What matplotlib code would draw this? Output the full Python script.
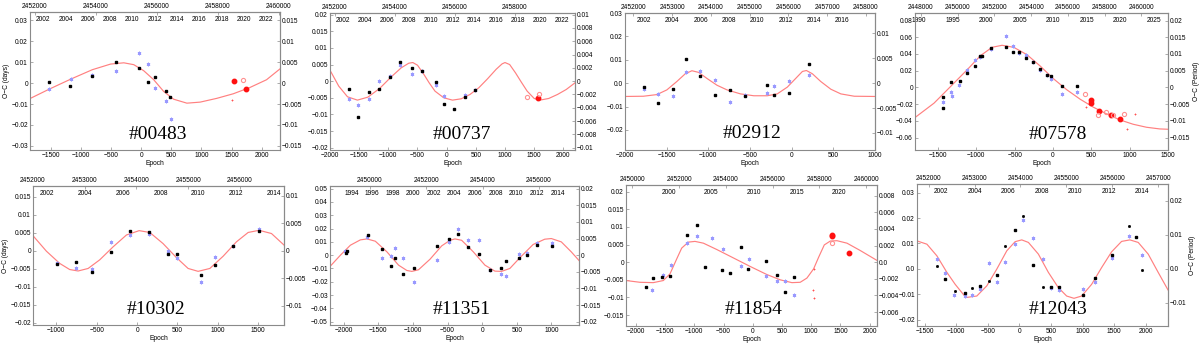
import numpy as np
import matplotlib
matplotlib.use('Agg')
import matplotlib.pyplot as plt
from matplotlib.ticker import FuncFormatter

plt.rcParams['font.family'] = ['Liberation Sans', 'DejaVu Sans']

names = ['#00483', '#00737', '#02912', '#07578', '#10302', '#11351', '#11854', '#12043']

# --- #00483 ---
blk_00483 = [(-1522, 0.0003), (-1176, -0.0013), (-808, 0.0035), (-423, 0.0099), (-38, 0.0073),
             (115, 0.0006), (225, 0.0027), (412, -0.0037), (484, -0.0065)]
blu_00483 = [(-1522, -0.0029), (-1165, 0.0019), (-808, 0.0041), (-423, 0.0057), (-38, 0.0144),
             (110, 0.0091), (225, -0.0022), (412, -0.0086), (489, -0.0171)]
red_00483 = [(1544, 0.0008), (1736, -0.0029)]
rop_00483 = [(1681, 0.0013)]
rsm_00483 = [(1500, -0.0083)]
fit_00483 = [(-1840, -0.0074), (-1522, -0.0029), (-1165, 0.0019), (-808, 0.0064), (-505, 0.0091),
             (-286, 0.0097), (-121, 0.0088), (44, 0.0059), (209, 0.0016), (374, -0.0040),
             (538, -0.0077), (758, -0.0096), (978, -0.0091), (1253, -0.0073), (1527, -0.0051),
             (1802, -0.0021), (2077, 0.0016), (2300, 0.0068)]

# --- #00737 ---
blk_00737 = [(-1682, -0.0024), (-1521, -0.0107), (-1326, -0.0034), (-1159, -0.0025), (-975, 0.0012),
             (-797, 0.0057), (-591, 0.0040), (-423, 0.0032), (-178, -0.0003), (-45, -0.0070),
             (134, -0.0084), (306, -0.0048), (485, -0.0027)]
blu_00737 = [(-1682, -0.0053), (-1515, -0.0073), (-1326, -0.0054), (-1159, 0.0002), (-975, 0.0015),
             (-797, 0.0049), (-591, 0.0022), (-423, 0.0031), (-184, -0.0011), (-50, -0.0045),
             (306, -0.0042), (485, -0.0028)]
red_00737 = [(1571, -0.0051)]
rop_00737 = [(1382, -0.0049), (1582, -0.0039)]
rsm_00737 = []
fit_00737 = [(-2000, 0.0033), (-1850, -0.0015), (-1700, -0.0047), (-1530, -0.0057), (-1350, -0.0048),
             (-1150, -0.0022), (-950, 0.0013), (-780, 0.0040), (-650, 0.0054), (-580, 0.0056),
             (-500, 0.0048), (-400, 0.0023), (-300, -0.0005), (-200, -0.0030), (-50, -0.0050),
             (100, -0.0057), (250, -0.0053), (400, -0.0040), (550, -0.0020), (700, 0.0007),
             (850, 0.0036), (950, 0.0052), (1000, 0.0056), (1080, 0.0050), (1180, 0.0025),
             (1280, -0.0003), (1380, -0.0030), (1500, -0.0052), (1600, -0.0057), (1750, -0.0052),
             (1900, -0.0040), (2050, -0.0025), (2200, -0.0005)]

# --- #02912 ---
blk_02912 = [(-1767, -0.0017), (-1606, -0.0083), (-1430, -0.0026), (-1265, 0.0103), (-1100, 0.0029),
             (-924, -0.0049), (-735, -0.0030), (-566, -0.0056), (-293, -0.0007), (-209, -0.0049),
             (-32, -0.0044), (205, 0.0081)]
blu_02912 = [(-1767, -0.0023), (-1606, -0.0047), (-1430, -0.0054), (-1265, 0.0049), (-1100, 0.0051),
             (-924, 0.0013), (-735, -0.0081), (-566, -0.0051), (-293, -0.0041), (-209, -0.0011),
             (-32, 0.0011), (205, 0.0033)]
red_02912 = []
rop_02912 = []
rsm_02912 = []
fit_02912 = [(-2000, -0.0057), (-1779, -0.0056), (-1618, -0.0049), (-1498, -0.0029), (-1378, 0.0007),
             (-1277, 0.0040), (-1197, 0.0053), (-1116, 0.0046), (-1016, 0.0020), (-896, -0.0009),
             (-775, -0.0029), (-614, -0.0046), (-454, -0.0054), (-293, -0.0054), (-173, -0.0046),
             (-52, -0.0017), (48, 0.0020), (129, 0.0050), (177, 0.0054), (249, 0.0040),
             (349, 0.0007), (470, -0.0026), (590, -0.0046), (751, -0.0056), (1000, -0.0057)]

# --- #07578 ---
blk_07578 = [(-1433, -0.0116), (-1433, -0.0248), (-1327, 0.0068), (-1219, 0.0080), (-1119, 0.0172),
             (-1011, 0.0260), (-955, 0.0380), (-924, 0.0370), (-807, 0.0468), (-617, 0.0484),
             (-522, 0.0424), (-444, 0.0424), (-348, 0.0348), (-262, 0.0300), (-167, 0.0216),
             (-76, 0.0152), (-32, 0.0132), (119, 0.0012), (309, 0.0020)]
blu_07578 = [(-1433, -0.0180), (-1327, -0.0060), (-1323, -0.0104), (-1223, 0.0028), (-1119, 0.0212),
             (-1015, 0.0328), (-955, 0.0360), (-807, 0.0464), (-617, 0.0620), (-522, 0.0500),
             (-440, 0.0412), (-348, 0.0384), (-262, 0.0308), (-167, 0.0212), (-80, 0.0148),
             (-32, 0.0096), (115, -0.0084), (309, -0.0056)]
red_07578 = [(491, -0.0156), (496, -0.0188), (604, -0.0276), (755, -0.0328), (872, -0.0380)]
rop_07578 = [(422, -0.0084), (591, -0.0328), (690, -0.0288), (786, -0.0328), (924, -0.0316)]
rsm_07578 = [(425, -0.0236), (1075, -0.0316), (961, -0.0500)]
fit_07578 = [(-1800, -0.0360), (-1552, -0.0188), (-1335, 0.0012), (-1119, 0.0212), (-946, 0.0380),
             (-794, 0.0480), (-664, 0.0504), (-513, 0.0480), (-340, 0.0392), (-167, 0.0256),
             (6, 0.0104), (180, -0.0028), (353, -0.0140), (526, -0.0236), (699, -0.0316),
             (872, -0.0388), (1045, -0.0440), (1219, -0.0476), (1392, -0.0496), (1500, -0.0500)]

# --- #10302 ---
blk_10302 = [(-992, -0.0037), (-752, -0.0030), (-558, -0.0059), (-322, -0.0003), (-91, 0.0055),
             (153, 0.0053), (384, -0.0008), (492, -0.0009), (793, -0.0067), (967, -0.0039),
             (1190, 0.0013), (1512, 0.0056)]
blu_10302 = [(-992, -0.0035), (-752, -0.0048), (-558, -0.0050), (-322, 0.0025), (-91, 0.0044),
             (153, 0.0048), (384, -0.0001), (492, -0.0019), (793, -0.0086), (967, -0.0016),
             (1190, 0.0014), (1512, 0.0060)]
red_10302 = []
rop_10302 = []
rsm_10302 = []
fit_10302 = [(-1290, 0.0042), (-1124, -0.0001), (-959, -0.0035), (-835, -0.0052), (-731, -0.0056),
             (-607, -0.0049), (-463, -0.0025), (-298, 0.0011), (-132, 0.0044), (25, 0.0056),
             (157, 0.0051), (322, 0.0020), (488, -0.0019), (632, -0.0049), (756, -0.0057),
             (901, -0.0049), (1066, -0.0015), (1231, 0.0025), (1376, 0.0051), (1512, 0.0057),
             (1665, 0.0048), (1820, 0.0016)]

# --- #11351 ---
blk_11351 = [(-1975, 0.0013), (-1947, 0.0035), (-1644, 0.0148), (-1447, 0.0050), (-1318, -0.0080),
             (-1255, -0.0025), (-1150, -0.0143), (-982, -0.0098), (-657, 0.0070), (-479, 0.0120),
             (-354, 0.0162), (-200, 0.0065), (-47, 0.0010), (112, -0.0115), (266, -0.0095),
             (338, -0.0043), (535, -0.0023), (650, 0.0000), (794, 0.0080), (1010, 0.0070)]
blu_11351 = [(-1980, 0.0030), (-1668, 0.0135), (-1447, -0.0025), (-1318, -0.0005), (-1255, 0.0055),
             (-1150, -0.0018), (-982, -0.0200), (-657, -0.0033), (-479, 0.0100), (-354, 0.0195),
             (-200, 0.0112), (-42, 0.0112), (112, -0.0113), (266, -0.0138), (338, -0.0158),
             (535, 0.0010), (650, 0.0018), (794, 0.0088), (1010, 0.0093)]
red_11351 = []
rop_11351 = []
rsm_11351 = []
fit_11351 = [(-2200, -0.0085), (-2049, 0.0000), (-1905, 0.0075), (-1761, 0.0115), (-1665, 0.0122),
             (-1545, 0.0105), (-1377, 0.0025), (-1209, -0.0075), (-1089, -0.0115), (-1017, -0.0122),
             (-921, -0.0110), (-753, -0.0030), (-585, 0.0070), (-465, 0.0112), (-393, 0.0122),
             (-297, 0.0112), (-128, 0.0025), (40, -0.0075), (184, -0.0120), (280, -0.0122),
             (400, -0.0100), (544, -0.0020), (736, 0.0080), (904, 0.0120), (1000, 0.0125),
             (1144, 0.0100), (1288, 0.0025), (1400, -0.0040)]

# --- #11854 ---
blk_11854 = [(-1834, -0.0070), (-1714, -0.0045), (-1549, -0.0043), (-1417, -0.0040), (-1120, 0.0078),
             (-960, 0.0105), (-811, -0.0015), (-520, -0.0021), (-389, -0.0032), (-206, 0.0042),
             (-80, -0.0018), (229, 0.0003), (406, -0.0036), (554, -0.0085), (703, -0.0042)]
blu_11854 = [(-1720, -0.0080), (-1537, -0.0037), (-1406, -0.0009), (-1120, 0.0054), (-960, 0.0074),
             (-691, 0.0070), (-514, 0.0037), (-206, -0.0011), (-69, 0.0008), (229, -0.0039),
             (406, -0.0054), (554, -0.0052), (703, -0.0093)]
red_11854 = [(1349, 0.0077), (1354, 0.0074), (1646, 0.0025)]
rop_11854 = [(1349, 0.0055)]
rsm_11854 = [(1023, -0.0080), (1040, -0.0101), (1040, -0.0019)]
fit_11854 = [(-2170, -0.0052), (-1931, -0.0057), (-1703, -0.0058), (-1531, -0.0052), (-1417, -0.0033),
             (-1303, 0.0009), (-1217, 0.0040), (-1103, 0.0057), (-989, 0.0059), (-846, 0.0054),
             (-617, 0.0036), (-331, 0.0012), (-46, -0.0012), (240, -0.0035), (469, -0.0050),
             (669, -0.0058), (811, -0.0057), (926, -0.0045), (1040, -0.0019), (1126, 0.0014),
             (1223, 0.0049), (1326, 0.0060), (1440, 0.0061), (1611, 0.0054), (1840, 0.0033),
             (2125, 0.0005)]

# --- #12043 ---
blk_12043 = [(-1184, -0.0041), (-868, -0.0095), (-626, -0.0067), (-353, -0.0024), (-74, 0.0151),
             (221, 0.0017), (500, -0.0072), (632, -0.0070), (1000, -0.0101), (1195, -0.0038),
             (1463, 0.0054), (1847, 0.0126)]
bsm_12043 = [(-1305, 0.0013), (-1026, -0.0088), (-753, -0.0074), (-484, -0.0047), (-221, 0.0091),
             (63, 0.0207), (368, -0.0071), (1726, 0.0167), (1932, -0.0005)]
blu_12043 = [(-1305, 0.0039), (-1184, -0.0017), (-1032, -0.0104), (-868, -0.0107), (-753, -0.0103),
             (-626, -0.0080), (-484, 0.0022), (-353, -0.0050), (-221, 0.0025), (-74, 0.0097),
             (63, 0.0193), (221, 0.0120), (368, 0.0037), (500, -0.0074), (632, -0.0083),
             (1000, -0.0079), (1195, -0.0050), (1463, 0.0041), (1726, 0.0130), (1932, 0.0054)]
red_12043 = []
rop_12043 = []
rsm_12043 = []
fit_12043 = [(-1620, 0.0110), (-1463, 0.0097), (-1305, 0.0051), (-1147, -0.0014), (-1016, -0.0061),
             (-847, -0.0113), (-674, -0.0107), (-516, -0.0067), (-358, -0.0001), (-200, 0.0071),
             (-68, 0.0107), (37, 0.0114), (142, 0.0104), (300, 0.0058), (458, -0.0014),
             (616, -0.0074), (747, -0.0107), (863, -0.0116), (984, -0.0107), (1142, -0.0061),
             (1300, 0.0005), (1458, 0.0067), (1616, 0.0108), (1747, 0.0114), (1879, 0.0104),
             (2037, 0.0058), (2195, -0.0014), (2350, -0.0083)]

black = [blk_00483, blk_00737, blk_02912, blk_07578, blk_10302, blk_11351, blk_11854, blk_12043]
blue = [blu_00483, blu_00737, blu_02912, blu_07578, blu_10302, blu_11351, blu_11854, blu_12043]
redf = [red_00483, red_00737, red_02912, red_07578, red_10302, red_11351, red_11854, red_12043]
redo = [rop_00483, rop_00737, rop_02912, rop_07578, rop_10302, rop_11351, rop_11854, rop_12043]
reds = [rsm_00483, rsm_00737, rsm_02912, rsm_07578, rsm_10302, rsm_11351, rsm_11854, rsm_12043]
fits = [fit_00483, fit_00737, fit_02912, fit_07578, fit_10302, fit_11351, fit_11854, fit_12043]
small_black = {7: bsm_12043}

# ephemeris for the top axes (T0, period) and right-axis scale
t0s = [2455483, 2455732, 2456085, 2455190, 2454012, 2453986, 2455150, 2453978]
pers = [1.98, 1.948, 2.15, 4.168, 1.56, 2.45, 2.5, 1.377]
rscale = [2.0, 2.0, 2.13, 4.0, 1.53, 2.5, 2.36, 1.34]

jd_ticks = [range(2452000, 2460001, 2000), range(2452000, 2458001, 2000), range(2452000, 2458001, 1000),
            range(2448000, 2460001, 2000), range(2452000, 2456001, 1000), range(2450000, 2456001, 2000),
            range(2450000, 2460001, 2000), range(2452000, 2457001, 1000)]
yr_ticks = [range(2002, 2023, 2), range(2002, 2023, 2), range(2002, 2017, 2), range(1990, 2026, 5),
            range(2002, 2015, 2), range(1994, 2015, 2), range(2000, 2021, 5), range(2002, 2015, 2)]

# layout (pixels inside each 300x172 cell: left, top, right, bottom)
rects = [(30, 12, 280, 150), (30, 13, 275, 150), (25, 13, 275, 150), (15, 13, 268, 150),
         (33, 14, 284, 153), (30, 14, 279, 153), (26, 13, 277, 154), (17, 12, 268, 154)]
xlims = [(-1840, 2300), (-2000, 2200), (-2000, 1000), (-1800, 1500),
         (-1290, 1820), (-2200, 1400), (-2170, 2125), (-1620, 2350)]
ylims = [(-0.032, 0.034), (-0.0207, 0.0205), (-0.0286, 0.030), (-0.0748, 0.089),
         (-0.0206, 0.018), (-0.0525, 0.052), (-0.0181, 0.0219), (-0.0225, 0.0334)]
lticks = [(-0.03, 0.03, 0.01), (-0.02, 0.02, 0.005), (-0.02, 0.03, 0.01), (-0.06, 0.08, 0.02),
          (-0.02, 0.015, 0.005), (-0.05, 0.05, 0.01), (-0.015, 0.02, 0.005), (-0.02, 0.03, 0.01)]
rticks = [(-0.015, 0.015, 0.005), (-0.01, 0.01, 0.002), (-0.01, 0.01, 0.005), (-0.015, 0.02, 0.005),
          (-0.01, 0.01, 0.005), (-0.02, 0.02, 0.005), (-0.006, 0.008, 0.002), (-0.01, 0.02, 0.01)]
lzero = ['0', '0', '0.0', '0', '0', '0', '0', '0.0']
rzero = ['0', '0', '0', '0', '0', '0', '0.0', '0.0']
label_pos = [(0.51, 0.11), (0.54, 0.11), (0.51, 0.12), (0.565, 0.11),
             (0.49, 0.115), (0.53, 0.115), (0.51, 0.115), (0.56, 0.115)]

FS = 4.8
GRAY = '#8a8a8a'


def fmt(zero):
    def f(v, pos):
        if abs(v) < 1e-9:
            return zero
        return ('%g' % v).replace('-', '\u2212')
    return FuncFormatter(f)


def tick_list(lo, hi, step):
    n = int(round((hi - lo) / step))
    return [round(lo + i * step, 6) for i in range(n + 1)]


fig = plt.figure(figsize=(12, 3.44), dpi=100)
subfigs = fig.subfigures(2, 4, wspace=0, hspace=0).ravel()

for i, sf in enumerate(subfigs):
    l, t, r, b = rects[i]
    ax = sf.add_axes([l / 300, 1 - b / 172, (r - l) / 300, (b - t) / 172])

    fe, fy = zip(*fits[i])
    ax.plot(fe, fy, color='#ff8080', lw=0.85, zorder=2)
    be, by = zip(*blue[i])
    ax.plot(be, by, ls='none', marker=(6, 2, 0), ms=2.6, mew=0.6, color='#9999ff', zorder=3)
    ke, ky = zip(*black[i])
    ax.plot(ke, ky, ls='none', marker='s', ms=1.8, color='black', zorder=4)
    if i in small_black:
        se, sy = zip(*small_black[i])
        ax.plot(se, sy, ls='none', marker='s', ms=1.0, color='black', zorder=4)
    if redf[i]:
        re_, ry = zip(*redf[i])
        ax.plot(re_, ry, ls='none', marker='o', ms=3.2, color='#ff1010', zorder=5)
    if redo[i]:
        oe, oy = zip(*redo[i])
        ax.plot(oe, oy, ls='none', marker='o', ms=3.0, mfc='none', mec='#ff9090', mew=0.8, zorder=5)
    if reds[i]:
        xe, xy = zip(*reds[i])
        ax.plot(xe, xy, ls='none', marker='+', ms=1.8, mew=0.6, color='#ff5050', zorder=5)

    ax.set_xlim(*xlims[i])
    ax.set_ylim(*ylims[i])
    ax.set_yticks(tick_list(*lticks[i]))
    ax.yaxis.set_major_formatter(fmt(lzero[i]))
    ax.xaxis.set_major_formatter(fmt('0'))
    ax.set_xlabel('Epoch', fontsize=FS, labelpad=1)
    ax.tick_params(labelsize=FS, direction='in', length=2, width=0.5, color=GRAY, pad=1.5)
    for s in ax.spines.values():
        s.set_color(GRAY)
        s.set_linewidth(0.8)

    T0, P, R = t0s[i], pers[i], rscale[i]
    jd = ax.secondary_xaxis('top', functions=(lambda e, T0=T0, P=P: T0 + P * e,
                                              lambda j, T0=T0, P=P: (j - T0) / P))
    jd.set_xticks(list(jd_ticks[i]))
    jd.xaxis.set_major_formatter(FuncFormatter(lambda v, p: '%d' % round(v)))
    jd.tick_params(labelsize=FS, direction='in', length=2, width=0.5, color=GRAY, pad=1.5)
    jd.spines['top'].set_color(GRAY)

    yr = ax.secondary_xaxis('top', functions=(
        lambda e, T0=T0, P=P: 2000 + (T0 + P * e - 2451544.5) / 365.25,
        lambda y, T0=T0, P=P: (2451544.5 + (y - 2000) * 365.25 - T0) / P))
    yr.set_xticks(list(yr_ticks[i]))
    yr.xaxis.set_major_formatter(FuncFormatter(lambda v, p: '%d' % round(v)))
    yr.tick_params(labelsize=FS, direction='in', length=0, pad=-7.6)
    yr.spines['top'].set_visible(False)

    ry_ax = ax.secondary_yaxis('right', functions=(lambda y, R=R: y / R, lambda y, R=R: y * R))
    ry_ax.set_yticks(tick_list(*rticks[i]))
    ry_ax.yaxis.set_major_formatter(fmt(rzero[i]))
    ry_ax.tick_params(labelsize=FS, direction='in', length=2, width=0.5, color=GRAY, pad=1.5)
    ry_ax.spines['right'].set_color(GRAY)

    if i in (0, 4):
        ax.set_ylabel('O\u2212C (days)', fontsize=FS, labelpad=1)
    if i in (3, 7):
        ry_ax.set_ylabel('O\u2212C (Period)', fontsize=FS, labelpad=2)

    ax.text(label_pos[i][0], label_pos[i][1], names[i], transform=ax.transAxes,
            ha='center', va='center', fontsize=14, family=['Liberation Serif', 'DejaVu Serif'])

fig.savefig('out.png', dpi=100)
